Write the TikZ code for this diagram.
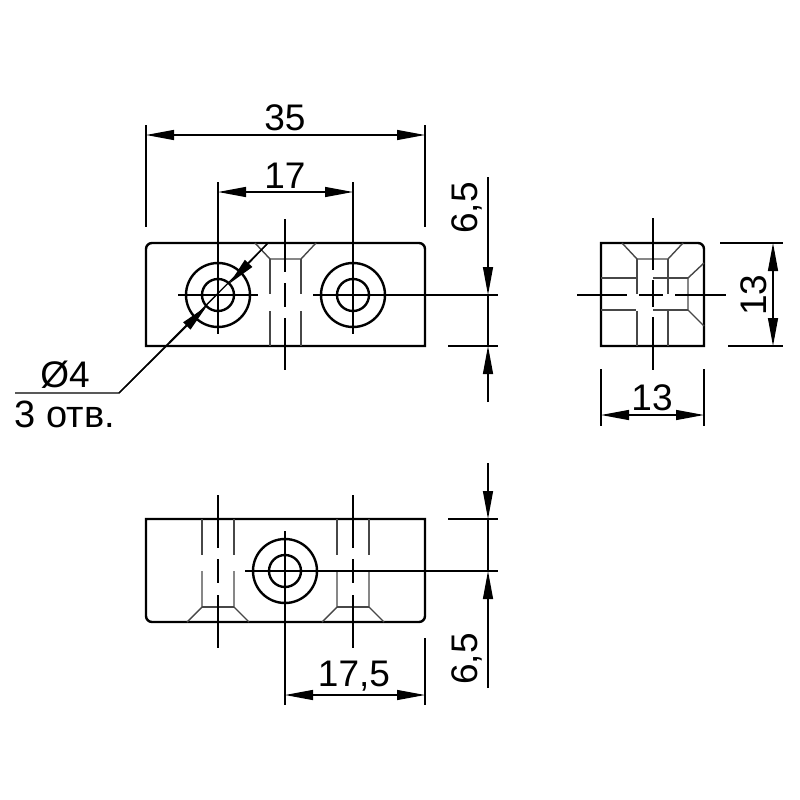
\documentclass[tikz,border=0pt]{standalone}
\usepackage{fontspec}
\setmainfont{Liberation Sans}
\usetikzlibrary{arrows.meta}
\definecolor{hiddengray}{rgb}{.28, .28, .28}

\begin{document}
\begin{tikzpicture}[x=1pt,y=-1pt]
  \tikzset{OL/.style={line width=2.4pt, draw=black}}
  \tikzset{TH/.style={line width=1.4pt, draw=black}}
  \tikzset{HD/.style={line width=1.4pt, draw=hiddengray}}
  \tikzset{DM/.style={line width=1.3pt, draw=black, >={Triangle[length=28pt,width=10pt,sep=0pt]}}}
  \tikzset{TX/.style={inner sep=0pt, text height=26pt, text depth=0pt, font=\fontsize{37}{40}\selectfont}}
  \useasboundingbox (0,0) rectangle (800,800);

  % front view
  \draw [OL] (146,346) [rounded corners=6pt] -- (146,243) -- (425,243) [sharp corners] -- (425,346) -- cycle;
  \foreach \cx in {218,353} {
    \draw [OL] (\cx,295) circle (32pt);
    \draw [OL] (\cx,295) circle (16pt);
  }
  \foreach \hx in {270,301} {
    \draw [HD] (\hx,259) -- (\hx,294);
    \draw [HD] (\hx,311) -- (\hx,346);
  }
  \draw [HD] (255,243) -- (270,259) -- (301,259) -- (316,243);
  \draw [TH] (178,295) -- (258,295);
  \draw [TH] (313,295) -- (498,295);
  \draw [TH] (218,182) -- (218,334);
  \draw [TH] (353,182) -- (353,334);
  \foreach \ya/\yb in {219/272,283/307,318/370}
    \draw [TH] (285,\ya) -- (285,\yb);

  % side view
  \draw [OL] (601,346) -- (601,243) [rounded corners=6pt] -- (704,243) [sharp corners] -- (704,346) -- cycle;
  \foreach \hx in {637,668} {
    \draw [HD] (\hx,259) -- (\hx,294);
    \draw [HD] (\hx,311) -- (\hx,346);
  }
  \draw [HD] (622,243) -- (637,259) -- (668,259) -- (683,243);
  \foreach \hy in {278,310} {
    \draw [HD] (601,\hy) -- (636,\hy);
    \draw [HD] (653,\hy) -- (688,\hy);
  }
  \draw [HD] (704,263) -- (688,278) -- (688,310) -- (704,326);
  \foreach \ya/\yb in {218/270,280/307,317/370}
    \draw [TH] (653,\ya) -- (653,\yb);
  \foreach \xa/\xb in {577/627,639/663,675/726}
    \draw [TH] (\xa,295) -- (\xb,295);

  % bottom view
  \draw [OL] (425,519) -- (146,519) [rounded corners=6pt] -- (146,622) -- (425,622) [sharp corners] -- cycle;
  \draw [OL] (285,571) circle (32pt);
  \draw [OL] (285,571) circle (16pt);
  \foreach \hx/\gx in {202/187,234/249,337/322,369/384} {
    \draw [HD] (\hx,519) -- (\hx,555);
    \draw [HD] (\hx,571) -- (\hx,607) -- (\gx,622);
  }
  \draw [HD] (202,607) -- (234,607);
  \draw [HD] (337,607) -- (369,607);
  \foreach \cx in {218,353}
    \foreach \ya/\yb in {495/548,559/583,595/648}
      \draw [TH] (\cx,\ya) -- (\cx,\yb);
  \draw [TH] (245,571) -- (498,571);
  \draw [TH] (285,531) -- (285,705);

  % extension lines
  \foreach \xa/\ya/\xb/\yb in {146/125/146/227,425/125/425/227,448/346/498/346,
      720/243/783/243,728/346/783/346,601/369/601/426,704/369/704/426,
      448/519/498/519,425/638/425/705}
    \draw [TH] (\xa,\ya) -- (\xb,\yb);

  % dimensions
  \coordinate (a35) at (146,135);
  \coordinate (b35) at (425,135);
  \coordinate (a17) at (218,192);
  \coordinate (b17) at (353,192);
  \coordinate (a175) at (285,695);
  \coordinate (b175) at (425,695);
  \coordinate (a13h) at (601,415);
  \coordinate (b13h) at (704,415);
  \coordinate (a13v) at (773,243);
  \coordinate (b13v) at (773,346);
  \foreach \from/\to in {a35/b35,a17/b17,a175/b175,a13h/b13h,a13v/b13v}
    \draw [DM,<->] (\from) -- (\to);

  \coordinate (s1) at (488,177);
  \coordinate (s2) at (488,295);
  \coordinate (s3) at (488,346);
  \coordinate (s4) at (488,402);
  \coordinate (u1) at (488,463);
  \coordinate (u2) at (488,519);
  \coordinate (u3) at (488,571);
  \coordinate (u4) at (488,688);
  \foreach \from/\to in {s1/s2,s4/s3,u1/u2,u4/u3}
    \draw [DM,->] (\from) -- (\to);
  \draw [DM] (s2) -- (s3);
  \draw [DM] (u2) -- (u3);

  % diameter leader
  \coordinate (l0) at (15,393);
  \coordinate (l1) at (119,393);
  \coordinate (l2) at (268,243);
  \coordinate (d1) at (206.7,306.3);
  \coordinate (d2) at (229.3,283.7);
  \draw [DM] (l0) -- (l1) -- (l2);
  \draw [DM,->] (l1) -- (d1);
  \draw [DM,->] (l2) -- (d2);

  \node [TX] (t35)  at (285,117) {35};
  \node [TX] (t17)  at (285,175) {17};
  \node [TX] (t175) at (354,673) {17,5};
  \node [TX] (t13h) at (652,397) {13};
  \node [TX,rotate=90] (t13v) at (753,295) {13};
  \node [TX,rotate=90] (t65a) at (464,208) {6,5};
  \node [TX,rotate=90] (t65b) at (464,659) {6,5};
  \node [TX] (tdia) at (65,374) {Ø4};
  \node [TX,font=\fontsize{38}{40}\selectfont] (tnum) at (65,414) {3 отв.};
\end{tikzpicture}
\end{document}
